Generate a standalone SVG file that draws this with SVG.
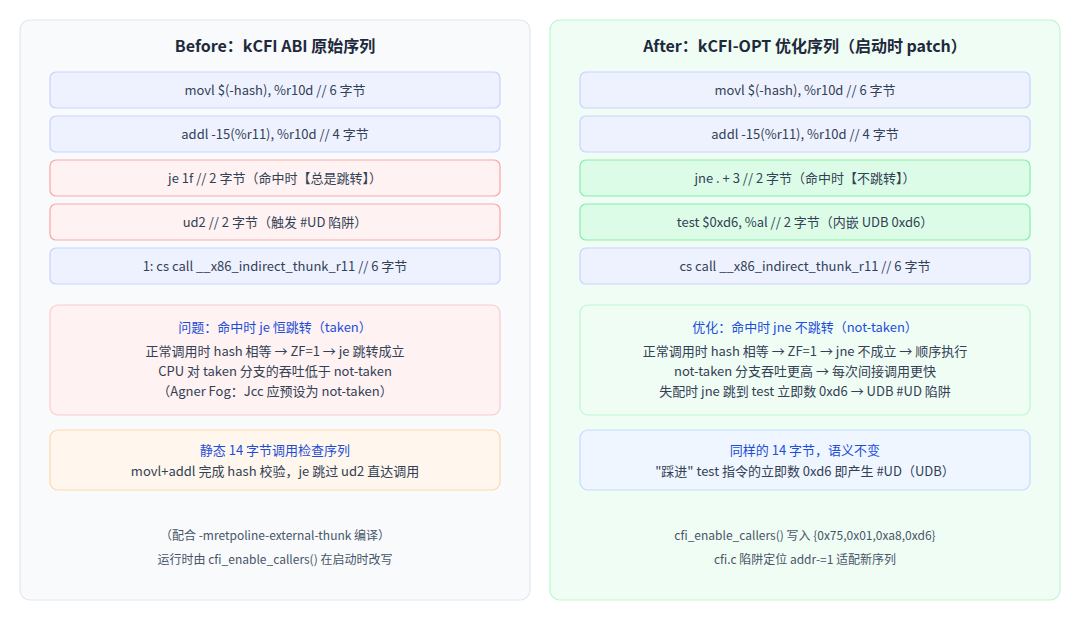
<svg xmlns="http://www.w3.org/2000/svg" width="1080" height="620" viewBox="0 0 1080 620">
<style>
text{font-family:"Noto Sans CJK SC","Noto Sans",sans-serif;text-anchor:middle;fill:#334155;font-size:13px}
.t{font-size:16px;font-weight:bold;fill:#1e293b}
.h{fill:#1d4ed8;font-size:13px}
.f{fill:#475569;font-size:12px}
.b{fill:#eef2ff;stroke:#c7d2fe}
.r{fill:#fef2f2;stroke:#fca5a5}
.g{fill:#dcfce7;stroke:#86efac}
rect{stroke-width:1.2}
</style>
<rect x="20" y="20" width="510" height="580" rx="10" fill="#f8fafc" stroke="#e2e8f0"/>
<rect x="550" y="20" width="510" height="580" rx="10" fill="#f0fdf4" stroke="#bbf7d0"/>
<text class="t" x="275" y="52">Before：kCFI ABI 原始序列</text>
<text class="t" x="805" y="52">After：kCFI-OPT 优化序列（启动时 patch）</text>
<g id="L1"><rect class="b" x="50" y="72" width="450" height="36" rx="6"/><text x="275" y="95">movl $(-hash), %r10d // 6 字节</text></g>
<g id="L2"><rect class="b" x="50" y="116" width="450" height="36" rx="6"/><text x="275" y="139">addl -15(%r11), %r10d // 4 字节</text></g>
<g id="L3"><rect class="r" x="50" y="160" width="450" height="36" rx="6"/><text x="275" y="183">je 1f // 2 字节（命中时【总是跳转】）</text></g>
<g id="L4"><rect class="r" x="50" y="204" width="450" height="36" rx="6"/><text x="275" y="227">ud2 // 2 字节（触发 #UD 陷阱）</text></g>
<g id="L5"><rect class="b" x="50" y="248" width="450" height="36" rx="6"/><text x="275" y="271">1: cs call __x86_indirect_thunk_r11 // 6 字节</text></g>
<g id="L6"><rect x="50" y="305" width="450" height="110" rx="8" fill="#fef2f2" stroke="#fecaca"/>
<text class="h" x="275" y="332">问题：命中时 je 恒跳转（taken）</text>
<text x="275" y="356">正常调用时 hash 相等 → ZF=1 → je 跳转成立</text>
<text x="275" y="376">CPU 对 taken 分支的吞吐低于 not-taken</text>
<text x="275" y="396">（Agner Fog：Jcc 应预设为 not-taken）</text></g>
<g id="L7"><rect x="50" y="430" width="450" height="60" rx="8" fill="#fff7ed" stroke="#fed7aa"/>
<text class="h" x="275" y="455">静态 14 字节调用检查序列</text>
<text x="275" y="476">movl+addl 完成 hash 校验，je 跳过 ud2 直达调用</text></g>
<text class="f" x="275" y="540">（配合 -mretpoline-external-thunk 编译）</text>
<text class="f" x="275" y="564">运行时由 cfi_enable_callers() 在启动时改写</text>
<g id="R1"><rect class="b" x="580" y="72" width="450" height="36" rx="6"/><text x="805" y="95">movl $(-hash), %r10d // 6 字节</text></g>
<g id="R2"><rect class="b" x="580" y="116" width="450" height="36" rx="6"/><text x="805" y="139">addl -15(%r11), %r10d // 4 字节</text></g>
<g id="R3"><rect class="g" x="580" y="160" width="450" height="36" rx="6"/><text x="805" y="183">jne . + 3 // 2 字节（命中时【不跳转】）</text></g>
<g id="R4"><rect class="g" x="580" y="204" width="450" height="36" rx="6"/><text x="805" y="227">test $0xd6, %al // 2 字节（内嵌 UDB 0xd6）</text></g>
<g id="R5"><rect class="b" x="580" y="248" width="450" height="36" rx="6"/><text x="805" y="271">cs call __x86_indirect_thunk_r11 // 6 字节</text></g>
<g id="R6"><rect x="580" y="305" width="450" height="110" rx="8" fill="#f0fdf4" stroke="#bbf7d0"/>
<text class="h" x="805" y="332">优化：命中时 jne 不跳转（not-taken）</text>
<text x="805" y="356">正常调用时 hash 相等 → ZF=1 → jne 不成立 → 顺序执行</text>
<text x="805" y="376">not-taken 分支吞吐更高 → 每次间接调用更快</text>
<text x="805" y="396">失配时 jne 跳到 test 立即数 0xd6 → UDB #UD 陷阱</text></g>
<g id="R7"><rect x="580" y="430" width="450" height="60" rx="8" fill="#eff6ff" stroke="#bfdbfe"/>
<text class="h" x="805" y="455">同样的 14 字节，语义不变</text>
<text x="805" y="476">"踩进" test 指令的立即数 0xd6 即产生 #UD（UDB）</text></g>
<text class="f" x="805" y="540">cfi_enable_callers() 写入 {0x75,0x01,0xa8,0xd6}</text>
<text class="f" x="805" y="564">cfi.c 陷阱定位 addr-=1 适配新序列</text>
<g id="connectors"/>
</svg>
